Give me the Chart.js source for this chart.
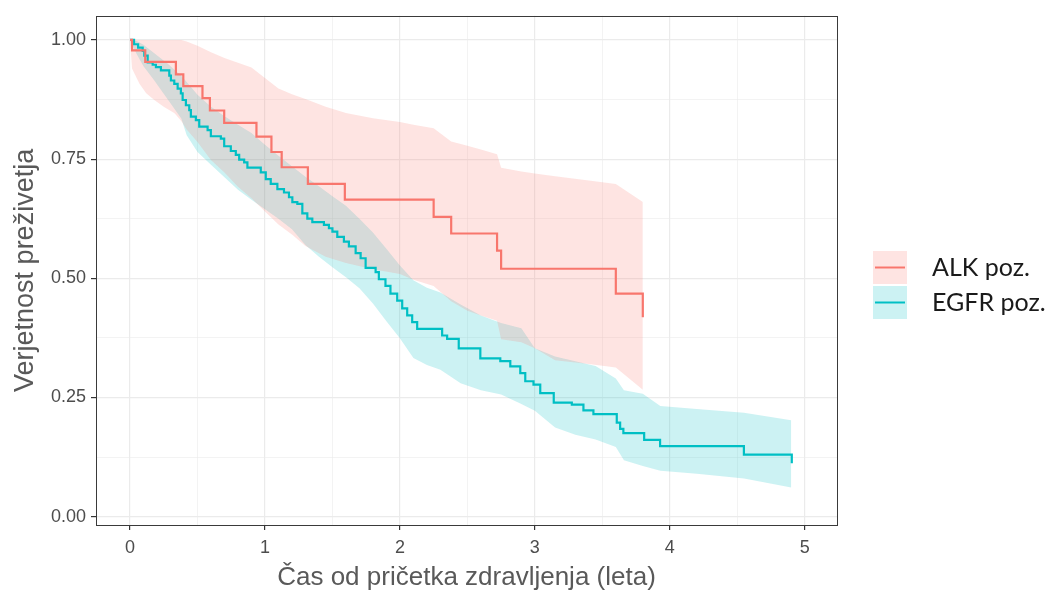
<!DOCTYPE html>
<html>
<head>
<meta charset="utf-8">
<script src="https://cdn.jsdelivr.net/npm/chart.js@4.4.1/dist/chart.umd.min.js"></script>
<style>
  html, body { margin: 0; padding: 0; background: #fff; }
</style>
</head>
<body>
<canvas id="km" width="1050" height="595"></canvas>
<script>
// groups and colours
const groups = ['ALK poz.', 'EGFR poz.'];
const lineColors = ['#F8766D', '#00BFC4'];
const bandColors = ['rgba(248,118,109,0.2)', 'rgba(0,191,196,0.2)'];

// ALK: Kaplan-Meier estimate
const alkTime = [0, 0.015, 0.113, 0.34, 0.395, 0.537, 0.592, 0.698, 0.937, 1.048, 1.124, 1.318, 1.592, 2.25, 2.38, 2.72, 2.75, 3.60, 3.80];
const alkSurv = [1, 0.978, 0.954, 0.928, 0.903, 0.878, 0.852, 0.826, 0.797, 0.765, 0.733, 0.698, 0.665, 0.629, 0.594, 0.558, 0.520, 0.468, 0.418];

// ALK: confidence band
const alkBandTime = [0, 0.015, 0.07, 0.12, 0.18, 0.25, 0.33, 0.38, 0.42, 0.5, 0.6, 0.7, 0.8, 0.9, 1.0, 1.1, 1.2, 1.3, 1.45, 1.6, 1.8, 2.0, 2.1, 2.25, 2.38, 2.5, 2.6, 2.72, 2.75, 2.9, 3.0, 3.15, 3.4, 3.6, 3.8];
const alkUpper = [1, 1, 1, 1, 1, 1, 1, 1, 0.997, 0.988, 0.974, 0.962, 0.952, 0.942, 0.92, 0.898, 0.886, 0.876, 0.86, 0.847, 0.836, 0.828, 0.822, 0.815, 0.787, 0.778, 0.77, 0.76, 0.732, 0.724, 0.72, 0.714, 0.705, 0.698, 0.66];
const alkLower = [1, 0.94, 0.908, 0.888, 0.874, 0.86, 0.846, 0.83, 0.812, 0.786, 0.748, 0.722, 0.692, 0.668, 0.64, 0.613, 0.592, 0.568, 0.545, 0.532, 0.519, 0.509, 0.497, 0.484, 0.452, 0.432, 0.422, 0.411, 0.372, 0.366, 0.353, 0.328, 0.32, 0.313, 0.266];

// EGFR: Kaplan-Meier estimate
const egfrTime = [0, 0.03, 0.06, 0.094, 0.106, 0.131, 0.168, 0.192, 0.229, 0.291, 0.303, 0.328, 0.353, 0.377, 0.39, 0.414, 0.439, 0.451, 0.488, 0.513,
  0.575, 0.599, 0.673, 0.698, 0.747, 0.784, 0.809, 0.846, 0.87, 0.969, 1.006, 1.043, 1.092, 1.141, 1.178, 1.203, 1.24, 1.277, 1.314, 1.351,
  1.437, 1.474, 1.50, 1.536, 1.585, 1.622, 1.672, 1.709, 1.746, 1.82, 1.844, 1.893, 1.93, 1.98, 2.017, 2.054, 2.091, 2.128, 2.313, 2.35,
  2.436, 2.596, 2.744, 2.818, 2.892, 2.929, 2.99, 3.04, 3.14, 3.274, 3.36, 3.434, 3.607, 3.632, 3.656, 3.81, 3.928, 4.549, 4.904];
const egfrSurv = [1, 0.991, 0.984, 0.977, 0.967, 0.953, 0.948, 0.943, 0.936, 0.925, 0.915, 0.908, 0.898, 0.888, 0.874, 0.863, 0.853, 0.839, 0.832, 0.818,
  0.811, 0.798, 0.793, 0.777, 0.767, 0.759, 0.749, 0.743, 0.732, 0.722, 0.708, 0.698, 0.687, 0.680, 0.670, 0.660, 0.656, 0.636, 0.625, 0.618,
  0.612, 0.605, 0.598, 0.587, 0.577, 0.567, 0.553, 0.542, 0.522, 0.513, 0.498, 0.484, 0.468, 0.453, 0.437, 0.422, 0.408, 0.394, 0.380, 0.373,
  0.353, 0.332, 0.326, 0.315, 0.301, 0.284, 0.277, 0.259, 0.239, 0.235, 0.223, 0.215, 0.197, 0.184, 0.175, 0.161, 0.148, 0.130, 0.112];

// EGFR: confidence band
const egfrBandTime = [0, 0.05, 0.1, 0.18, 0.28, 0.38, 0.42, 0.5, 0.6, 0.7, 0.8, 0.9, 1.0, 1.1, 1.2, 1.3, 1.4, 1.5, 1.6, 1.7, 1.8, 1.9, 2.0, 2.1, 2.2, 2.3, 2.45, 2.6, 2.75, 2.9, 3.0, 3.15, 3.3, 3.45, 3.6, 3.66, 3.8, 3.93, 4.2, 4.55, 4.9];
const egfrUpper = [1, 0.998, 0.99, 0.972, 0.95, 0.925, 0.912, 0.885, 0.86, 0.84, 0.822, 0.805, 0.78, 0.757, 0.735, 0.713, 0.693, 0.672, 0.652, 0.625, 0.596, 0.562, 0.527, 0.496, 0.48, 0.47, 0.445, 0.422, 0.406, 0.395, 0.353, 0.336, 0.326, 0.316, 0.29, 0.265, 0.258, 0.232, 0.226, 0.218, 0.202];
const egfrLower = [1, 0.97, 0.945, 0.915, 0.875, 0.835, 0.8, 0.765, 0.738, 0.712, 0.686, 0.665, 0.645, 0.625, 0.603, 0.57, 0.545, 0.523, 0.502, 0.479, 0.447, 0.41, 0.374, 0.333, 0.318, 0.308, 0.28, 0.265, 0.256, 0.236, 0.222, 0.187, 0.172, 0.162, 0.146, 0.118, 0.106, 0.096, 0.09, 0.08, 0.061];

// axes
const xTicks = [0, 1, 2, 3, 4, 5];
const xMinor = [0.5, 1.5, 2.5, 3.5, 4.5];
const yTicks = [0, 0.25, 0.5, 0.75, 1];
const yMinor = [0.125, 0.375, 0.625, 0.875];

const pts = (xs, ys) => xs.map((x, i) => ({ x: x, y: ys[i] }));

const tickFont = { family: "'Liberation Sans', Arial, sans-serif", size: 18 };
const titleFont = { family: "'Liberation Sans', Arial, sans-serif", size: 26 };

const line = (label, xs, ys, i) => ({
  label: label,
  data: pts(xs, ys),
  borderColor: lineColors[i],
  borderWidth: 2.2,
  stepped: 'before',
  pointRadius: 0,
  fill: false
});

const band = (xs, ys, i, fill) => ({
  data: pts(xs, ys),
  borderColor: 'transparent',
  borderWidth: 0,
  backgroundColor: bandColors[i],
  pointRadius: 0,
  fill: fill
});

const panelBorder = {
  id: 'panelBorder',
  afterDatasetsDraw(chart) {
    const { ctx, chartArea: a } = chart;
    ctx.save();
    ctx.strokeStyle = '#3a3a3a';
    ctx.lineWidth = 1;
    ctx.strokeRect(Math.round(a.left) + 0.5, Math.round(a.top) + 0.5, Math.round(a.right - a.left), Math.round(a.bottom - a.top));
    ctx.restore();
  }
};

const sideLegend = {
  id: 'sideLegend',
  afterDraw(chart) {
    const { ctx, chartArea: a } = chart;
    const x0 = a.right + 36;
    ctx.save();
    groups.forEach((g, i) => {
      const y0 = 251 + i * 35;
      ctx.fillStyle = bandColors[i];
      ctx.fillRect(x0, y0, 34, 33);
      ctx.strokeStyle = lineColors[i];
      ctx.lineWidth = 2;
      ctx.beginPath();
      ctx.moveTo(x0 + 2, y0 + 16.5);
      ctx.lineTo(x0 + 32, y0 + 16.5);
      ctx.stroke();
      ctx.fillStyle = '#1a1a1a';
      ctx.font = '25px Lato, "Open Sans", sans-serif';
      ctx.textBaseline = 'middle';
      ctx.fillText(g, x0 + 59, y0 + 17);
    });
    ctx.restore();
  }
};

new Chart(document.getElementById('km'), {
  type: 'line',
  data: {
    datasets: [
      line(groups[0], alkTime, alkSurv, 0),
      line(groups[1], egfrTime, egfrSurv, 1),
      band(alkBandTime, alkUpper, 0, '+1'),
      band(alkBandTime, alkLower, 0, false),
      band(egfrBandTime, egfrUpper, 1, '+1'),
      band(egfrBandTime, egfrLower, 1, false)
    ]
  },
  options: {
    responsive: false,
    animation: false,
    devicePixelRatio: 1,
    layout: { padding: { top: 9, right: 213, bottom: 0, left: 0 } },
    plugins: {
      legend: { display: false },
      tooltip: { enabled: false }
    },
    scales: {
      x: {
        type: 'linear',
        min: -0.252,
        max: 5.239,
        afterFit: s => { s.height = 70; },
        afterBuildTicks: s => { s.ticks = xTicks.concat(xMinor).sort((a, b) => a - b).map(v => ({ value: v })); },
        ticks: {
          autoSkip: false,
          maxRotation: 0,
          padding: 7,
          color: '#4d4d4d',
          font: tickFont,
          callback: v => xTicks.includes(v) ? String(v) : ''
        },
        grid: {
          color: '#ebebeb',
          lineWidth: c => xTicks.includes(c.tick && c.tick.value) ? 1.2 : 0.6,
          tickLength: 5,
          tickColor: c => xTicks.includes(c.tick && c.tick.value) ? '#333333' : 'rgba(0,0,0,0)'
        },
        border: { display: false },
        title: {
          display: true,
          text: 'Čas od pričetka zdravljenja (leta)',
          color: '#595959',
          font: titleFont,
          padding: { top: 0, bottom: 2 }
        }
      },
      y: {
        type: 'linear',
        min: -0.0176,
        max: 1.0507,
        afterFit: s => { s.width = 96; },
        afterBuildTicks: s => { s.ticks = yTicks.concat(yMinor).sort((a, b) => a - b).map(v => ({ value: v })); },
        ticks: {
          autoSkip: false,
          padding: 5,
          color: '#4d4d4d',
          font: tickFont,
          callback: v => yTicks.includes(v) ? v.toFixed(2) : ''
        },
        grid: {
          color: '#ebebeb',
          lineWidth: c => yTicks.includes(c.tick && c.tick.value) ? 1.2 : 0.6,
          tickLength: 5,
          tickColor: c => yTicks.includes(c.tick && c.tick.value) ? '#333333' : 'rgba(0,0,0,0)'
        },
        border: { display: false },
        title: {
          display: true,
          text: 'Verjetnost preživetja',
          color: '#595959',
          font: { family: "'Liberation Sans', Arial, sans-serif", size: 27 },
          padding: { top: 9, bottom: 0 }
        }
      }
    }
  },
  plugins: [panelBorder, sideLegend]
});
</script>
</body>
</html>
